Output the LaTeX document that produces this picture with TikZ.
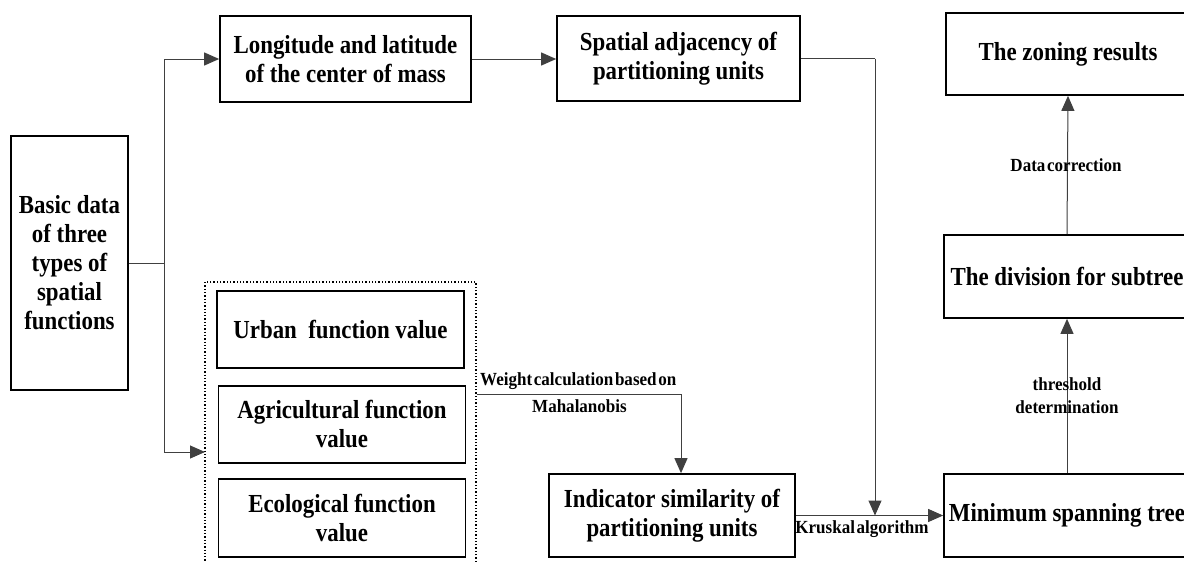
\documentclass[tikz,border=0pt]{standalone}
\usepackage{fontspec}
\setmainfont{Liberation Serif}
\newfontfamily\boxfont[FakeStretch=0.88]{Liberation Serif}
\newfontfamily\lblfont[FakeStretch=0.92, WordSpace=0.4]{Liberation Serif}
\usetikzlibrary{arrows.meta}
\tikzset{
  box/.style={draw=black, line width=1.7pt, align=center, inner sep=2pt,
    font=\boxfont\bfseries\fontsize{26}{29}\selectfont},
  conn/.style={draw=black!75, line width=1pt},
  arr/.style={conn, -{Triangle[length=15pt,width=13pt]}},
  lbl/.style={font=\lblfont\bfseries\fontsize{18.5}{23}\selectfont, inner sep=0pt, align=center},
}
\begin{document}
\begin{tikzpicture}[x=1pt,y=-1pt]
\path[use as bounding box] (0,0) rectangle (1184,562);
\clip (0,0) rectangle (1184,562);
\fill[white] (0,0) rectangle (1184,562);

% nodes
\node[box, minimum width=117, minimum height=254] (basic) at (69.5,263)
  {Basic data\\of three\\types of\\spatial\\functions};
\node[box, minimum width=251, minimum height=86] (lon) at (345.5,59)
  {Longitude and latitude\\of the center of mass};
\node[box, minimum width=243, minimum height=85] (spat) at (678.5,58.5)
  {Spatial adjacency of\\partitioning units};
\node[box, minimum width=244, minimum height=82] (zon) at (1068,54)
  {The zoning results};
\node[box, minimum width=246, minimum height=83] (div) at (1067,276.5)
  {The division for subtree};
\node[box, minimum width=246, minimum height=83] (mst) at (1067,515.5)
  {Minimum spanning tree};
\node[box, minimum width=246, minimum height=83] (ind) at (672,515.5)
  {Indicator similarity of\\partitioning units};
\node[draw=black, line width=1.3pt, dotted, minimum width=271, minimum height=296, inner sep=0pt] (grp) at (340.5,430) {};
\node[box, minimum width=247, minimum height=77] (urb) at (340.5,329.5)
  {Urban\ \ function value};
\node[box, minimum width=247, minimum height=77] (agr) at (342,424.5)
  {Agricultural function\\value};
\node[box, minimum width=247, minimum height=78] (eco) at (342,518)
  {Ecological function\\value};

% connectors
\coordinate (j) at (164,263);
\coordinate (gin) at (205,452);
\coordinate (spatturn) at (875,58.5);
\coordinate (wturn) at (681,394);
\draw[conn] (basic.east) -- (j);
\draw[arr] (j) |- (lon.west);
\draw[arr] (j) |- (gin);
\draw[arr] (lon.east) -- (lon.east -| spat.west);
\draw[conn] (spat.east) -- (spatturn);
\draw[arr] (spatturn) -- (spatturn |- ind.east);
\draw[arr] (ind.east) -- (mst.west);
\draw[conn] (grp.east |- wturn) -- (wturn);
\draw[arr] (wturn) -- (wturn |- ind.north);
\draw[arr] (mst.north) -- (div.south);
\draw[arr] (div.north) -- (zon.south);

% labels
\node[lbl, anchor=west] (wl1) at (480,381) {Weight calculation based on};
\node[lbl, anchor=west] (wl2) at (532,406) {Mahalanobis};
\node[lbl] (kl) at (862,529) {Kruskal algorithm};
\node[lbl] (tl) at (1067,396) {threshold\\determination};
\node[lbl] (dl) at (1066,165) {Data correction};
\end{tikzpicture}
\end{document}
